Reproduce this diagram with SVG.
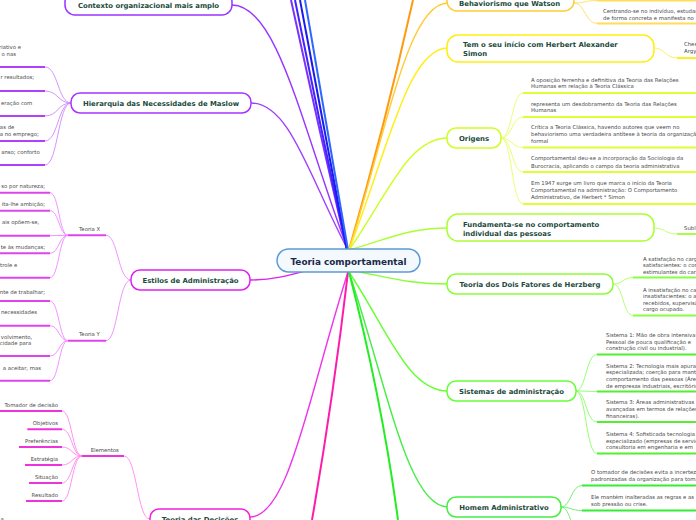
<svg xmlns="http://www.w3.org/2000/svg" width="696" height="520" viewBox="0 0 696 520">
<style>
.c{fill:none;stroke-width:1.4}
.cw{fill:none;stroke-width:2}
.lc{fill:none;stroke-width:0.9}
.bar{stroke-width:2}
.nd rect{fill:#fff;stroke-width:1.5}
.nt{font-family:"DejaVu Sans",Verdana,sans-serif;font-weight:bold;font-size:6.9px;fill:#1b4a3c}
.lt{font-family:"DejaVu Sans",Verdana,sans-serif;font-size:5.35px;fill:#4a4a4a}
.e{text-anchor:end}
.m{text-anchor:middle}
</style>
<rect width="696" height="520" fill="#fff"/>
<g id="connectors">
  <path class="c" stroke="#9933ff" d="M348 250 C302 128 278 5 232 5"/>
  <path class="c" stroke="#a040ff" d="M348 250 C309 177 290 103 251 103"/>
  <path class="cw" stroke="#7a33ff" d="M347 250 Q318 125 291 0"/>
  <path class="cw" stroke="#4422ff" d="M347 250 Q320 125 295 0"/>
  <path class="cw" stroke="#1a1aee" d="M347 250 Q323 125 300 0"/>
  <path class="cw" stroke="#2f66ff" d="M348 250 Q326 125 305 0"/>
  <path class="c" stroke="#dd22ee" d="M348 262 C310 266 290 280 250 280"/>
  <path class="c" stroke="#ee33ee" d="M348 272 C309 394 289 517 250 517"/>
  <path class="cw" stroke="#ff1aaa" d="M348 272 Q333 400 312 520"/>
  <path class="cw" stroke="#ff9911" d="M349 250 Q385 125 413 0"/>
  <path class="c" stroke="#ffcc33" d="M349 250 C388 126 408 3 448 3"/>
  <path class="c" stroke="#ffee11" d="M349 250 C388 149 408 48 448 48"/>
  <path class="c" stroke="#ccff22" d="M349 250 C388 194 408 138 448 138"/>
  <path class="c" stroke="#aaff33" d="M349 250 C388 239 408 228 448 228"/>
  <path class="c" stroke="#88ff33" d="M349 270 C388 277 408 284 448 284"/>
  <path class="c" stroke="#66ff33" d="M349 272 C388 331 408 391 448 391"/>
  <path class="c" stroke="#44ee44" d="M349 272 C388 390 408 507 448 507"/>
  <path class="cw" stroke="#22ee22" d="M349 272 Q382 400 398 520"/>
  <g stroke="#cc88ff">
    <path class="lc" d="M71 103 C58 103 58 67 45 67"/>
    <path class="lc" d="M71 103 C58 103 58 91 45 91"/>
    <path class="lc" d="M71 103 C58 103 58 116 45 116"/>
    <path class="lc" d="M71 103 C58 103 58 141 45 141"/>
    <path class="lc" d="M71 103 C58 103 58 165 45 165"/>
  </g>
  <g stroke="#ee88ff">
    <path class="lc" d="M131 280 C118 280 118 235.3 106 235.3"/>
    <path class="lc" d="M131 280 C118 280 118 340.7 106 340.7"/>
    <path class="lc" d="M68 235.3 C59 235.3 59 192.7 50 192.7"/>
    <path class="lc" d="M68 235.3 C59 235.3 59 210.7 50 210.7"/>
    <path class="lc" d="M68 235.3 L50 235.7"/>
    <path class="lc" d="M68 235.3 C59 235.3 59 253.3 50 253.3"/>
    <path class="lc" d="M68 235.3 C59 235.3 59 277.7 50 277.7"/>
    <path class="lc" d="M68 340.7 C59 340.7 59 301 50 301"/>
    <path class="lc" d="M68 340.7 C59 340.7 59 325.7 50 325.7"/>
    <path class="lc" d="M68 340.7 C59 340.7 59 356 50 356"/>
    <path class="lc" d="M68 340.7 C59 340.7 59 380.7 50 380.7"/>
  </g>
  <g stroke="#ff88ee">
    <path class="lc" d="M150 519 C137 519 137 456 124 456"/>
    <path class="lc" d="M82 456 C72 456 72 411 62 411"/>
    <path class="lc" d="M82 456 C72 456 72 429.3 62 429.3"/>
    <path class="lc" d="M82 456 C72 456 72 447 62 447"/>
    <path class="lc" d="M82 456 C72 456 72 465 62 465"/>
    <path class="lc" d="M82 456 C72 456 72 483 62 483"/>
    <path class="lc" d="M82 456 C72 456 72 501 62 501"/>
  </g>
  <g stroke="#ffdd66">
    <path class="lc" d="M574 3 C585 3 585 0.5 597 0.5"/>
    <path class="lc" d="M574 3 C585 3 585 23.5 597 23.5"/>
  </g>
  <path class="lc" stroke="#ffee55" d="M654 48 C665 48 665 58 677 58"/>
  <g stroke="#e6ff66">
    <path class="lc" d="M501 138 C512 138 512 93 523 93"/>
    <path class="lc" d="M501 138 C512 138 512 117 523 117"/>
    <path class="lc" d="M501 138 C512 138 512 147.5 523 147.5"/>
    <path class="lc" d="M501 138 C512 138 512 172 523 172"/>
    <path class="lc" d="M501 138 C512 138 512 204 523 204"/>
  </g>
  <path class="lc" stroke="#bbff66" d="M654 228 C665 228 665 234 677 234"/>
  <g stroke="#aaff66">
    <path class="lc" d="M613 284 C623 284 623 277.5 633 277.5"/>
    <path class="lc" d="M613 284 C623 284 623 315.5 633 315.5"/>
  </g>
  <g stroke="#88ff66">
    <path class="lc" d="M576 391 C586 391 586 354.5 597 354.5"/>
    <path class="lc" d="M576 391 C586 391 586 391.5 597 391.5"/>
    <path class="lc" d="M576 391 C586 391 586 422 597 422"/>
    <path class="lc" d="M576 391 C586 391 586 453.5 597 453.5"/>
  </g>
  <g stroke="#66ee66">
    <path class="lc" d="M561 507 C571 507 571 485.5 582 485.5"/>
    <path class="lc" d="M561 507 C571 507 571 510.5 582 510.5"/>
    <path class="lc" d="M561 507 C571 507 571 535 582 535"/>
  </g>
</g>

<g id="central" class="nd">
  <rect x="277" y="249" width="143" height="23" rx="11.5" style="fill:#f4f9fd;stroke:#5b9bd5"/>
  <text class="nt m" x="348.5" y="264.5" style="font-size:8.9px;fill:#1a2a4a">Teoria comportamental</text>
</g>

<g id="contexto" class="nd">
  <rect x="65" y="-8" width="167" height="23" rx="10" stroke="#9933ff"/>
  <text class="nt m" x="148.5" y="8">Contexto organizacional mais amplo</text>
</g>

<g id="maslow" class="nd">
  <rect x="71" y="93" width="180" height="20" rx="9" stroke="#a633ff"/>
  <text class="nt m" x="161" y="105.5">Hierarquia das Necessidades de Maslow</text>
</g>
<g id="maslow-1"><line class="bar" stroke="#b040ff" x1="0" y1="67" x2="45" y2="67"/><text class="lt e" x="21" y="49">riativo e</text><text class="lt e" x="16" y="55.5">o nas</text></g>
<g id="maslow-2"><line class="bar" stroke="#b040ff" x1="0" y1="91" x2="45" y2="91"/><text class="lt e" x="34" y="79">r resultados;</text></g>
<g id="maslow-3"><line class="bar" stroke="#b040ff" x1="0" y1="116" x2="45" y2="116"/><text class="lt e" x="32.3" y="104.5">eração com</text></g>
<g id="maslow-4"><line class="bar" stroke="#b040ff" x1="0" y1="141" x2="45" y2="141"/><text class="lt e" x="14.3" y="128.5">ras de</text><text class="lt e" x="38.7" y="135.5">a no emprego;</text></g>
<g id="maslow-5"><line class="bar" stroke="#b040ff" x1="0" y1="165" x2="45" y2="165"/><text class="lt e" x="39.7" y="153.5">anso; conforto</text></g>

<g id="estilos" class="nd">
  <rect x="131" y="270" width="119" height="20" rx="9" stroke="#dd22ee"/>
  <text class="nt m" x="190.5" y="282.5">Estilos de Administração</text>
</g>
<g id="teoria-x"><line class="bar" stroke="#dd44ee" x1="68" y1="235.3" x2="106" y2="235.3"/><text class="lt" x="79" y="230.5">Teoria X</text></g>
<g id="x-1"><line class="bar" stroke="#dd44ee" x1="0" y1="192.7" x2="50" y2="192.7"/><text class="lt e" x="45" y="187.5">so por natureza;</text></g>
<g id="x-2"><line class="bar" stroke="#dd44ee" x1="0" y1="210.7" x2="50" y2="210.7"/><text class="lt e" x="45" y="205.5">ita-lhe ambição;</text></g>
<g id="x-3"><line class="bar" stroke="#dd44ee" x1="0" y1="235.7" x2="50" y2="235.7"/><text class="lt e" x="39.3" y="224">ais opõem-se,</text></g>
<g id="x-4"><line class="bar" stroke="#dd44ee" x1="0" y1="253.3" x2="50" y2="253.3"/><text class="lt e" x="45" y="248.5">te às mudanças;</text></g>
<g id="x-5"><line class="bar" stroke="#dd44ee" x1="0" y1="277.7" x2="50" y2="277.7"/><text class="lt e" x="17.3" y="266.5">trole e</text></g>
<g id="teoria-y"><line class="bar" stroke="#dd44ee" x1="68" y1="340.7" x2="106" y2="340.7"/><text class="lt" x="79" y="335.5">Teoria Y</text></g>
<g id="y-1"><line class="bar" stroke="#dd44ee" x1="0" y1="301" x2="50" y2="301"/><text class="lt e" x="45" y="294">nte de trabalhar;</text></g>
<g id="y-2"><line class="bar" stroke="#dd44ee" x1="0" y1="325.7" x2="50" y2="325.7"/><text class="lt e" x="37" y="313.5">necessidades</text></g>
<g id="y-3"><line class="bar" stroke="#dd44ee" x1="0" y1="356" x2="50" y2="356"/><text class="lt e" x="32.3" y="339">volvimento,</text><text class="lt e" x="31.3" y="345">cidade para</text></g>
<g id="y-4"><line class="bar" stroke="#dd44ee" x1="0" y1="380.7" x2="50" y2="380.7"/><text class="lt e" x="41" y="370">a aceitar, mas</text></g>

<g id="decisoes" class="nd">
  <rect x="150" y="509" width="100" height="20" rx="9" stroke="#ee22dd"/>
  <text class="nt m" x="200" y="522">Teoria das Decisões</text>
</g>
<g id="elementos"><line class="bar" stroke="#ee33dd" x1="82" y1="456" x2="124" y2="456"/><text class="lt" x="90.7" y="451.5">Elementos</text></g>
<g id="el-1"><line class="bar" stroke="#ee33dd" x1="0" y1="411" x2="62" y2="411"/><text class="lt e" x="58" y="406.5">Tomador de decisão</text></g>
<g id="el-2"><line class="bar" stroke="#ee33dd" x1="27.3" y1="429.3" x2="62" y2="429.3"/><text class="lt e" x="58" y="424.5">Objetivos</text></g>
<g id="el-3"><line class="bar" stroke="#ee33dd" x1="19" y1="447" x2="62" y2="447"/><text class="lt e" x="58" y="442.5">Preferências</text></g>
<g id="el-4"><line class="bar" stroke="#ee33dd" x1="25" y1="465" x2="62" y2="465"/><text class="lt e" x="58" y="460.5">Estratégia</text></g>
<g id="el-5"><line class="bar" stroke="#ee33dd" x1="29" y1="483" x2="62" y2="483"/><text class="lt e" x="58" y="478.5">Situação</text></g>
<g id="el-6"><line class="bar" stroke="#ee33dd" x1="26" y1="501" x2="62" y2="501"/><text class="lt e" x="58" y="496.5">Resultado</text></g>
<g id="dec-leaf"><text class="lt" x="0.5" y="520.5">a</text></g>

<g id="behaviorismo" class="nd">
  <rect x="447" y="-12" width="127" height="23" rx="10" stroke="#ffcc33"/>
  <text class="nt" x="459" y="5.5">Behaviorismo que Watson</text>
</g>
<g id="beh-0"><line class="bar" stroke="#ffdd55" x1="597" y1="0.5" x2="696" y2="0.5"/></g>
<g id="beh-1"><line class="bar" stroke="#ffdd55" x1="597" y1="23.5" x2="696" y2="23.5"/><text class="lt" x="603" y="13">Centrando-se no indivíduo, estudando</text><text class="lt" x="603" y="19.5">de forma concreta e manifesta no</text></g>

<g id="simon" class="nd">
  <rect x="447" y="35" width="207" height="27" rx="11" stroke="#ffee11"/>
  <text class="nt" x="463" y="47">Tem o seu início com Herbert Alexander</text>
  <text class="nt" x="463" y="56">Simon</text>
</g>
<g id="simon-1"><line class="bar" stroke="#ffee22" x1="677" y1="58" x2="696" y2="58"/><text class="lt" x="684" y="46">Chester</text><text class="lt" x="684" y="53">Argyris</text></g>

<g id="origens" class="nd">
  <rect x="447" y="128" width="54" height="20" rx="9" stroke="#ccff22"/>
  <text class="nt m" x="474" y="140.5">Origens</text>
</g>
<g id="or-1"><line class="bar" stroke="#ddff33" x1="523" y1="93" x2="696" y2="93"/><text class="lt" x="531" y="81.5">A oposição ferrenha e definitiva da Teoria das Relações</text><text class="lt" x="531" y="88">Humanas em relação à Teoria Clássica</text></g>
<g id="or-2"><line class="bar" stroke="#ddff33" x1="523" y1="117" x2="696" y2="117"/><text class="lt" x="531" y="106">representa um desdobramento da Teoria das Relações</text><text class="lt" x="531" y="112">Humanas</text></g>
<g id="or-3"><line class="bar" stroke="#ddff33" x1="523" y1="147.5" x2="696" y2="147.5"/><text class="lt" x="531" y="129">Crítica a Teoria Clássica, havendo autores que veem no</text><text class="lt" x="531" y="136">behaviorismo uma verdadeira antítese à teoria da organização</text><text class="lt" x="531" y="142.5">formal</text></g>
<g id="or-4"><line class="bar" stroke="#ddff33" x1="523" y1="172" x2="696" y2="172"/><text class="lt" x="531" y="160">Comportamental deu-se a incorporação da Sociologia da</text><text class="lt" x="531" y="168">Burocracia, aplicando o campo da teoria administrativa</text></g>
<g id="or-5"><line class="bar" stroke="#ddff33" x1="523" y1="204" x2="696" y2="204"/><text class="lt" x="531" y="185">Em 1947 surge um livro que marca o início da Teoria</text><text class="lt" x="531" y="192">Comportamental na administração: O Comportamento</text><text class="lt" x="531" y="199">Administrativo, de Herbert * Simon</text></g>

<g id="fundamenta" class="nd">
  <rect x="447" y="214" width="207" height="27" rx="11" stroke="#aaff33"/>
  <text class="nt" x="463" y="226.5">Fundamenta-se no comportamento</text>
  <text class="nt" x="463" y="235.5">individual das pessoas</text>
</g>
<g id="fund-1"><line class="bar" stroke="#aaff44" x1="677" y1="234" x2="696" y2="234"/><text class="lt" x="684" y="229.5">Subl</text></g>

<g id="herzberg" class="nd">
  <rect x="447" y="274" width="166" height="20" rx="9" stroke="#88ff33"/>
  <text class="nt m" x="530" y="286.5">Teoria dos Dois Fatores de Herzberg</text>
</g>
<g id="hz-1"><line class="bar" stroke="#88ff44" x1="633" y1="277.5" x2="696" y2="277.5"/><text class="lt" x="643" y="261">A satisfação no cargo</text><text class="lt" x="643" y="267">satisfacientes: o conteúdo</text><text class="lt" x="643" y="273.5">estimulantes do cargo</text></g>
<g id="hz-2"><line class="bar" stroke="#88ff44" x1="633" y1="315.5" x2="696" y2="315.5"/><text class="lt" x="643" y="292">A insatisfação no cargo</text><text class="lt" x="643" y="298">insatisfacientes: o ambiente</text><text class="lt" x="643" y="304.5">recebidos, supervisão</text><text class="lt" x="643" y="311">cargo ocupado.</text></g>

<g id="sistemas" class="nd">
  <rect x="447" y="381" width="129" height="20" rx="9" stroke="#66ff33"/>
  <text class="nt m" x="511.5" y="393.5">Sistemas de administração</text>
</g>
<g id="sis-1"><line class="bar" stroke="#55ee33" x1="597" y1="354.5" x2="696" y2="354.5"/><text class="lt" x="606" y="337">Sistema 1: Mão de obra intensiva</text><text class="lt" x="606" y="343.5">Pessoal de pouca qualificação e</text><text class="lt" x="606" y="350">construção civil ou industrial).</text></g>
<g id="sis-2"><line class="bar" stroke="#55ee33" x1="597" y1="391.5" x2="696" y2="391.5"/><text class="lt" x="606" y="367.5">Sistema 2: Tecnologia mais apurada</text><text class="lt" x="606" y="374">especializada; coerção para manter</text><text class="lt" x="606" y="381">comportamento das pessoas (Áreas</text><text class="lt" x="606" y="388">de empresas industriais, escritórios</text></g>
<g id="sis-3"><line class="bar" stroke="#55ee33" x1="597" y1="422" x2="696" y2="422"/><text class="lt" x="606" y="404">Sistema 3: Áreas administrativas</text><text class="lt" x="606" y="411">avançadas em termos de relações</text><text class="lt" x="606" y="418">financeiras).</text></g>
<g id="sis-4"><line class="bar" stroke="#55ee33" x1="597" y1="453.5" x2="696" y2="453.5"/><text class="lt" x="606" y="436">Sistema 4: Sofisticada tecnologia</text><text class="lt" x="606" y="442.5">especializado (empresas de serviços</text><text class="lt" x="606" y="449">consultoria em engenharia e em</text></g>

<g id="homem" class="nd">
  <rect x="447" y="497" width="114" height="20" rx="9" stroke="#44ee44"/>
  <text class="nt m" x="504" y="509.5">Homem Administrativo</text>
</g>
<g id="hom-1"><line class="bar" stroke="#33ee33" x1="582" y1="485.5" x2="696" y2="485.5"/><text class="lt" x="591" y="474">O tomador de decisões evita a incerteza</text><text class="lt" x="591" y="481">padronizadas da organização para tomar</text></g>
<g id="hom-2"><line class="bar" stroke="#33ee33" x1="582" y1="510.5" x2="696" y2="510.5"/><text class="lt" x="591" y="498.5">Ele mantém inalteradas as regras e as</text><text class="lt" x="591" y="506">sob pressão ou crise.</text></g>
</svg>
